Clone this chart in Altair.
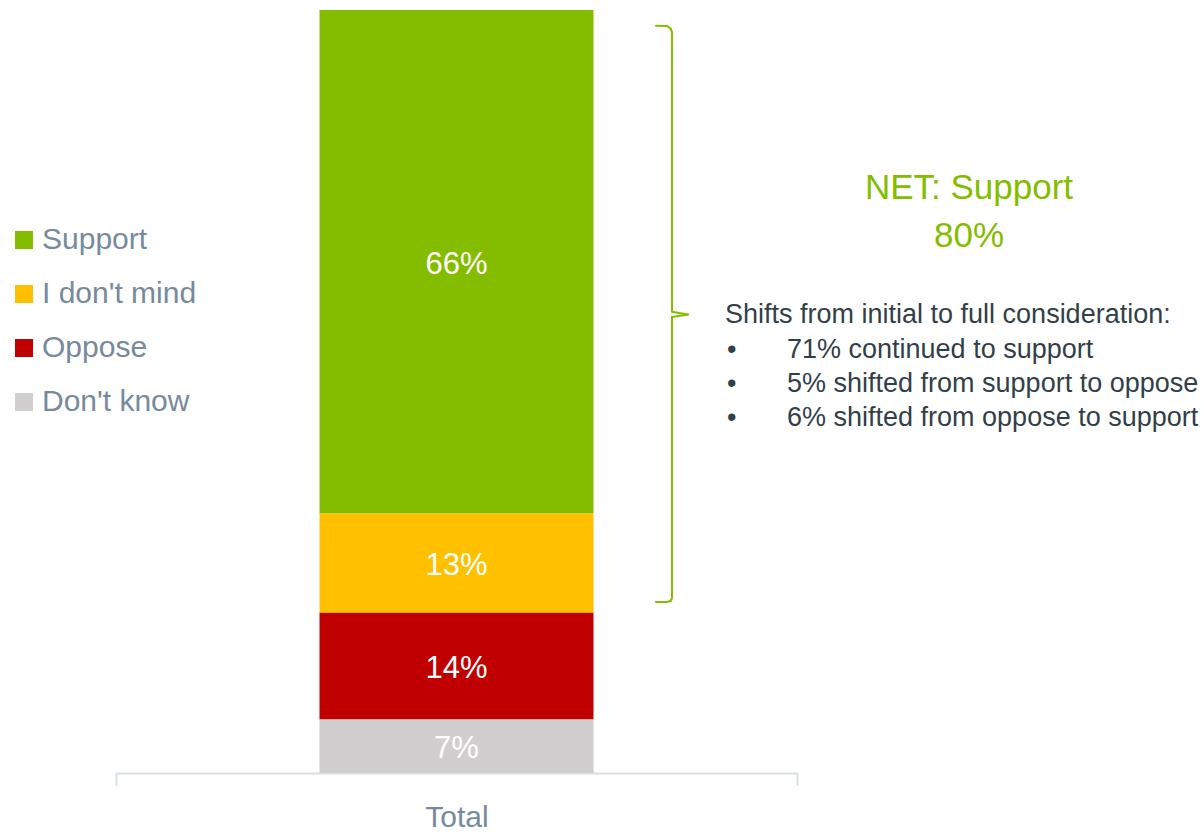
import altair as alt
import pandas as pd

# ---- data ----
categories = ["Support", "I don't mind", "Oppose", "Don't know"]
values = [66, 13, 14, 7]
stack_rank = [3, 2, 1, 0]          # 0 = bottom of the stack
colors = ["#84BD00", "#FFC000", "#C00000", "#D0CECE"]
group_label = "Total"

net_label = "NET: Support"
net_value = "80%"
shift_title = "Shifts from initial to full consideration:"
shift_lines = [
    "71% continued to support",
    "5% shifted from support to oppose",
    "6% shifted from oppose to support",
]

# brace outline (x in pixels from plot left, y in percent units)
brace_x = [540, 551, 554.5, 556, 556, 572, 556, 556, 554.5, 551, 540]
brace_y = [97.94, 97.9, 97.6, 97.1, 60.45, 60.1, 59.75, 22.9, 22.55, 22.42, 22.4]

FONT = "Liberation Sans"
LEGEND_GREY = "#778A9B"
DARK = "#333F48"
GREEN = "#84BD00"
W, H = 681, 763

df = pd.DataFrame({
    "cat": categories,
    "value": values,
    "rank": stack_rank,
    "group": group_label,
})
df["label"] = df["value"].astype(str) + "%"

color_scale = alt.Scale(domain=categories, range=colors)
y_scale = alt.Scale(domain=[0, 100], nice=False)
x_scale = alt.Scale(paddingInner=0, paddingOuter=0)

bars = alt.Chart(df).mark_bar(size=274).encode(
    x=alt.X("group:N", scale=x_scale, axis=alt.Axis(
        title=None, labelAngle=0, domainColor="#D9DEE3", domainWidth=2,
        tickColor="#D9DEE3", tickWidth=2, tickSize=12, tickBand="extent",
        labelFontSize=30, labelColor=LEGEND_GREY, labelFont=FONT, labelPadding=17,
    )),
    y=alt.Y("value:Q", stack="zero", scale=y_scale, axis=None),
    color=alt.Color("cat:N", scale=color_scale, legend=alt.Legend(
        title=None, orient="none", legendX=-107, legendY=215,
        symbolType="square", symbolSize=324, symbolStrokeWidth=0,
        labelFontSize=30, labelColor=LEGEND_GREY, labelFont=FONT,
        labelOffset=3, rowPadding=24, padding=0,
    )),
    order=alt.Order("rank:Q", sort="ascending"),
)

labels = alt.Chart(df).transform_stack(
    stack="value", groupby=["group"],
    sort=[alt.SortField("rank", order="ascending")], as_=["y0", "y1"],
).transform_calculate(mid="(datum.y0 + datum.y1) / 2").mark_text(
    color="white", fontSize=31, font=FONT, baseline="middle", dy=3,
).encode(
    x=alt.X("group:N", scale=x_scale),
    y=alt.Y("mid:Q", scale=y_scale, axis=None),
    text="label:N",
)

one = pd.DataFrame({"k": [0]})

brace_parts = []
for i in range(len(brace_x) - 1):
    brace_parts.append(
        alt.Chart(one).mark_rule(color=GREEN, strokeWidth=2, strokeCap="round").encode(
            x=alt.value(brace_x[i]), x2=alt.value(brace_x[i + 1]),
            y=alt.datum(brace_y[i]), y2=alt.datum(brace_y[i + 1]),
        )
    )


def txt(s, x, y, size, color, align="left"):
    return alt.Chart(one).mark_text(
        text=s, fontSize=size, font=FONT, color=color, align=align, baseline="alphabetic",
    ).encode(x=alt.value(x), y=alt.value(y))


notes = [
    txt(net_label, 853, 189, 35, GREEN, "center"),
    txt(net_value, 853, 237, 35, GREEN, "center"),
    txt(shift_title, 609, 313, 27, DARK),
]
for i, line in enumerate(shift_lines):
    notes.append(txt("•", 611, 348 + 34 * i, 27, DARK))
    notes.append(txt(line, 671, 348 + 34 * i, 27, DARK))

chart = alt.layer(bars, labels, *brace_parts, *notes).properties(
    width=W, height=H,
    autosize=alt.AutoSizeParams(type="none"),
    padding={"left": 116, "top": 10, "right": 407, "bottom": 59},
).configure_view(stroke=None)

chart.save("out.html", embed_options={"renderer": "svg", "actions": False})
